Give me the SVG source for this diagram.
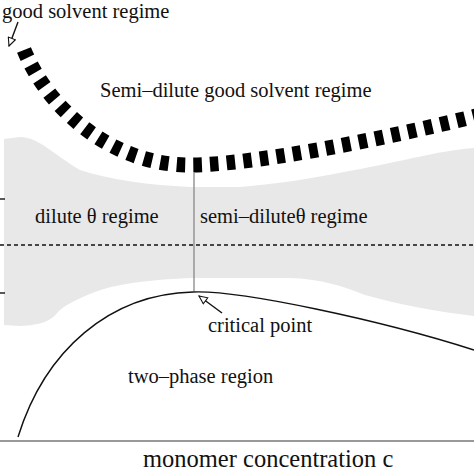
<svg xmlns="http://www.w3.org/2000/svg" width="474" height="474" viewBox="0 0 474 474">
<style>
text{font-family:"Liberation Serif","Times New Roman",serif;font-size:20.5px;fill:#111}
.thin{fill:none;stroke:#111;stroke-width:1.4}
.grayline{fill:none;stroke:#888;stroke-width:1.3}
</style>
<defs>
<marker id="open" viewBox="0 0 10 10" refX="9.5" refY="5" markerWidth="10" markerHeight="9" markerUnits="userSpaceOnUse" orient="auto">
<path d="M0.5,0.8 L9.5,5 L0.5,9.2 Z" fill="#fff" stroke="#111" stroke-width="1.2"/>
</marker>
</defs>
<rect width="474" height="474" fill="#fff"/>
<g id="theta-region">
<path d="M4,139 L20,137 C40,138 50,152 80,170 C110,180 150,185 190,187 L240,187 C290,183 330,175 380,165 C420,157 440,151 474,148 L474,316 C440,312 400,305 365,295 C340,285 320,279 290,278 L190,278 C140,280 110,286 95,292 C75,300 65,305 58,312 C50,322 40,325 20,326 L4,325 Z" fill="#e8e8e8"/>
</g>
<g id="axis">
<line x1="0" y1="441" x2="474" y2="441" stroke="#777" stroke-width="1.3"/>
<line x1="0" y1="199" x2="5" y2="199" class="thin"/>
<line x1="0" y1="293" x2="5" y2="293" class="thin"/>
</g>
<g id="connectors">
<path id="good-solvent-boundary" d="M24,50 C48,108 110,165 190,165 C250,165 380,140 480,115" fill="none" stroke="#000" stroke-width="15" stroke-dasharray="8.5 8.2"/>
<line id="theta-line" x1="0" y1="245" x2="474" y2="245" stroke="#111" stroke-width="1.4" stroke-dasharray="4 3"/>
<line id="critical-vertical" x1="194" y1="173" x2="194" y2="291" class="grayline"/>
<path id="coexistence-curve" d="M18,437 C45,350 110,294 193,292 C240,290 380,320 474,350" class="thin"/>
<line id="arrow-good" x1="18" y1="22" x2="9" y2="46" class="thin" marker-end="url(#open)"/>
<line id="arrow-critical" x1="222" y1="313" x2="199" y2="296" class="thin" marker-end="url(#open)"/>
</g>
<g id="label-good"><text x="2" y="18">good solvent regime</text></g>
<g id="label-semidilute-good"><text x="100" y="97">Semi–dilute good solvent regime</text></g>
<g id="label-dilute-theta"><text x="35" y="223">dilute θ regime</text></g>
<g id="label-semidilute-theta"><text x="200" y="223">semi–diluteθ regime</text></g>
<g id="label-critical"><text x="208" y="332">critical point</text></g>
<g id="label-two-phase"><text x="128" y="383">two–phase region</text></g>
<g id="label-axis"><text x="143" y="467" style="font-size:24.5px">monomer concentration c</text></g>
</svg>
